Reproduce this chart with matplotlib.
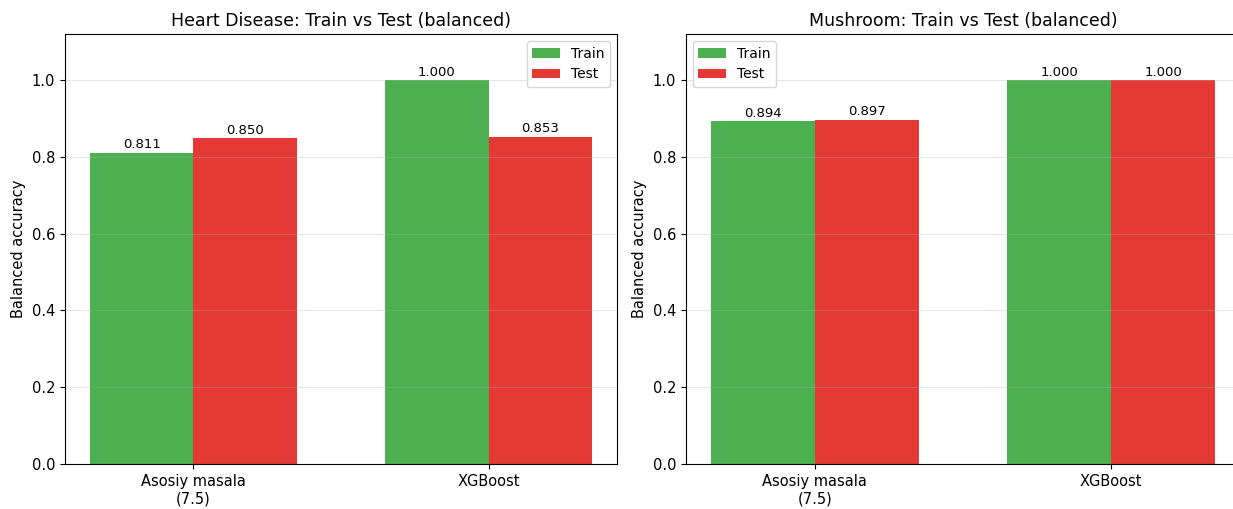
import numpy as np
import matplotlib.pyplot as plt

models = ['Asosiy masala\n(7.5)', 'XGBoost']
heart_train = [0.811, 1.000]
heart_test = [0.850, 0.853]
mush_train = [0.894, 1.000]
mush_test = [0.897, 1.000]

datasets = [
    ('Heart Disease: Train vs Test (balanced)', heart_train, heart_test),
    ('Mushroom: Train vs Test (balanced)', mush_train, mush_test),
]

fig = plt.figure(figsize=(12.33, 5.09), dpi=100)
W, H = 1233, 509
ax1 = fig.add_axes([65 / W, 1 - 464 / H, 552 / W, 430 / H])
ax2 = fig.add_axes([686 / W, 1 - 464 / H, 554 / W, 430 / H])
x = np.arange(len(models))
w = 0.35

for ax, (title, tr, te) in zip((ax1, ax2), datasets):
    b1 = ax.bar(x - w / 2, tr, w, label='Train', color='#4CAF50')
    b2 = ax.bar(x + w / 2, te, w, label='Test', color='#E53935')
    for bars in (b1, b2):
        for b in bars:
            ax.text(b.get_x() + b.get_width() / 2, b.get_height() + 0.003,
                    f'{b.get_height():.3f}', ha='center', va='bottom', fontsize=9.5)
    ax.set_xticks(x)
    ax.set_xticklabels(models, fontsize=10.5)
    ax.set_ylim(0, 1.12)
    ax.set_ylabel('Balanced accuracy', fontsize=10.5)
    ax.set_title(title, fontsize=12.5)
    ax.tick_params(axis='y', labelsize=10.5)
    ax.grid(axis='y', alpha=0.3)
    ax.set_axisbelow(False)
    ax.legend(loc='best')

plt.savefig('out.png')
